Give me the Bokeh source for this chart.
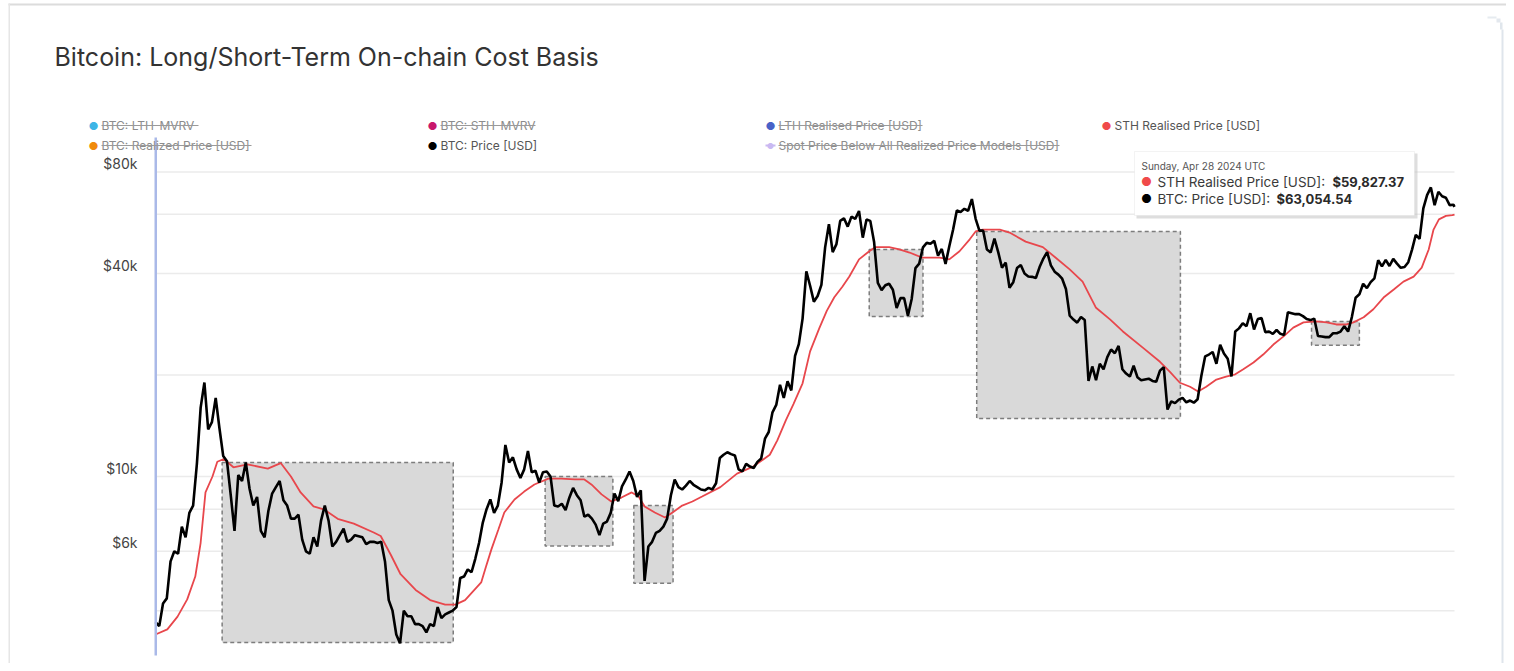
import pandas as pd
from bokeh.plotting import figure
from bokeh.models import Range1d, Label, BoxAnnotation, ColumnDataSource
from bokeh.embed import file_html
from bokeh.resources import INLINE

# ---------------- data ----------------
price_start = "2017-09-15"  # weekly (Friday) closes
price_2017 = [3700, 3600, 4200, 4350, 5600, 6000, 5900, 7100, 6600, 7800, 8200, 10900, 16000, 19000, 13800, 14500]
price_2018 = [17100, 13900, 11500, 11100, 8800, 6900, 10100, 9700, 11000, 9200, 8200, 8700, 6900,
              6600, 7900, 8900, 9300, 9700, 8500, 8200, 7500, 7500, 7700, 6500, 6000, 5900,
              6600, 6200, 7400, 8200, 7400, 6200, 6400, 6700, 7000, 6400, 6500, 6700, 6650,
              6600, 6300, 6400, 6400, 6350, 6400, 5600, 4300, 4000, 3400, 3200, 4000, 3850]
price_2019 = [3850, 3650, 3650, 3600, 3450, 3650, 3600, 4100, 3800, 3900, 3950, 4000, 4100,
              5000, 5050, 5300, 5200, 5700, 6350, 7300, 8000, 8550, 7800, 8200, 9600, 12400,
              11000, 11400, 10500, 9900, 10500, 11900, 10300, 10400, 9600, 10300, 10350, 10000, 8200,
              8150, 8300, 7950, 8650, 9250, 8800, 8500, 7600, 7700, 7500, 7200, 6700, 7250]
price_2020 = [7350, 7800, 8900, 8450, 9350, 9800, 10350, 9700, 8700, 9100, 4900, 6200, 6400,
              6800, 6900, 7100, 7500, 8800, 9800, 9300, 9150, 9400, 9700, 9450, 9300, 9150,
              9100, 9250, 9150, 9550, 11350, 11600, 11800, 11650, 11550, 10500, 10350, 10900, 10700,
              10600, 11050, 11300, 12950, 13550, 15500, 16300, 18700, 17100, 19150, 18000, 22800, 24700]
price_2021 = [29400, 40600, 36800, 33000, 34300, 37000, 47900, 56000, 46300, 48900, 57300, 58300, 55100,
              59000, 58100, 61300, 51100, 57800, 57300, 49700, 37500, 35700, 36900, 37300, 35800, 31600,
              33800, 33800, 30000, 33600, 41500, 42800, 47800, 49300, 49000, 50000, 45200, 47300, 42700,
              48200, 53900, 61500, 60900, 62200, 61400, 66500, 58100, 53600, 53600, 47100, 46200, 50800, 46300]
price_2022 = [41600, 43100, 36300, 37700, 41500, 42400, 40000, 39200, 39100, 38800, 41800, 44300,
              46300, 42300, 40500, 39700, 38600, 36000, 30000, 29200, 28600, 29700, 29100, 19200, 21200,
              19300, 21600, 20800, 22600, 23800, 23200, 24400, 20800, 20200, 19800, 21300, 19700, 19300,
              19400, 19500, 19200, 19100, 20600, 21100, 15800, 16700, 16500, 16900, 17100, 16600, 16800, 16550]
price_2023 = [16950, 19900, 22700, 23000, 23400, 21600, 24600, 23150, 22350, 19800, 26900, 27500, 28500,
              27900, 30500, 27300, 29300, 29500, 26800, 26900, 26500, 27200, 26500, 26300, 30700, 30500,
              30300, 30300, 29900, 29300, 29100, 29400, 26100, 26000, 25900, 25900, 26600, 26600, 26900,
              27900, 26900, 29700, 33900, 34700, 37300, 36200, 37700, 38700, 43800, 42000, 43900, 42100]
price_2024 = [44200, 42800, 41600, 41800, 43200, 47100, 52100, 50700, 62400, 68300, 72000, 63800,
              69900, 67800, 67100, 63800, 64000]
price_last_date = "2024-04-28"
price_last = 63054.54

sth_dates = ["2017-09-15", "2017-10-07", "2017-10-26", "2017-11-13", "2017-11-28", "2017-12-08",
             "2017-12-17", "2017-12-30", "2018-01-08", "2018-01-20", "2018-02-07", "2018-03-05",
             "2018-04-12", "2018-05-06", "2018-05-25", "2018-06-12", "2018-07-06", "2018-07-25",
             "2018-08-20", "2018-09-19", "2018-10-26", "2018-11-08", "2018-11-27", "2018-12-15",
             "2019-01-12", "2019-02-08", "2019-03-08", "2019-03-27", "2019-04-14", "2019-05-14",
             "2019-05-23", "2019-06-02", "2019-06-15", "2019-06-26", "2019-07-15", "2019-08-02",
             "2019-08-21", "2019-09-16", "2019-10-10", "2019-11-04", "2019-11-22", "2019-12-05",
             "2019-12-24", "2020-01-11", "2020-01-30", "2020-02-18", "2020-03-02", "2020-03-13",
             "2020-04-01", "2020-04-20", "2020-05-04", "2020-05-22", "2020-06-10", "2020-06-28",
             "2020-08-01", "2020-09-01", "2020-10-01", "2020-11-01", "2020-11-15", "2020-12-01",
             "2020-12-15", "2021-01-01", "2021-01-15", "2021-02-01", "2021-02-15", "2021-03-01",
             "2021-03-16", "2021-03-29", "2021-04-16", "2021-05-05", "2021-05-16", "2021-06-11",
             "2021-06-30", "2021-07-19", "2021-08-12", "2021-09-13", "2021-10-01", "2021-10-20",
             "2021-11-08", "2021-11-19", "2021-12-02", "2022-01-03", "2022-01-21", "2022-02-20",
             "2022-03-24", "2022-04-17", "2022-05-13", "2022-06-06", "2022-07-01", "2022-07-27",
             "2022-08-20", "2022-09-26", "2022-10-28", "2022-11-16", "2022-12-04", "2022-12-23",
             "2023-01-07", "2023-01-22", "2023-02-10", "2023-02-28", "2023-03-17", "2023-04-01",
             "2023-04-20", "2023-05-08", "2023-05-27", "2023-06-15", "2023-07-03", "2023-07-22",
             "2023-08-15", "2023-09-03", "2023-09-21", "2023-10-10", "2023-10-23", "2023-11-11",
             "2023-11-29", "2023-12-18", "2024-01-06", "2024-01-24", "2024-02-12", "2024-02-27",
             "2024-03-11", "2024-03-20", "2024-03-30", "2024-04-12", "2024-04-24", "2024-04-28"]
sth_values = [3400, 3520, 3840, 4320, 5050, 6360,
              8970, 10000, 11060, 11270, 10650, 10860,
              10550, 10960, 10000, 8970, 8150, 7990,
              7490, 7250, 6820, 6660, 5850, 5130,
              4610, 4300, 4170, 4170, 4300, 4850,
              5410, 6080, 6960, 7820, 8550, 9020,
              9470, 9860, 9860, 9800, 9800, 9470,
              8850, 8430, 8660, 8970, 8720, 8150,
              7820, 7560, 7820, 8200, 8430, 8720,
              9300, 10200, 10700, 11600, 12800, 14700,
              16400, 18900, 23500, 27500, 31000, 34000,
              36550, 39180, 44050, 46560, 47880, 47880,
              47180, 46160, 44550, 44550, 44050, 46560,
              50520, 53300, 54000, 54000, 52900, 49730,
              47880, 44550, 41150, 37850, 31650, 29240,
              26930, 24110, 21890, 20390, 18970, 18460,
              17860, 18460, 19380, 19790, 20100, 20810,
              21790, 23000, 24620, 26040, 27640, 28650,
              28850, 28650, 28240, 28240, 28650, 29660,
              31340, 33940, 35850, 37850, 39170, 41650,
              47140, 54000, 57880, 59270, 59600, 59827.37]

box_starts = ["2018-01-17", "2019-09-10", "2020-02-22", "2021-05-05", "2021-11-21", "2023-08-06"]
box_ends = ["2019-03-23", "2020-01-14", "2020-05-05", "2021-08-13", "2022-12-05", "2023-11-03"]
box_tops = [11000, 10000, 8200, 47100, 53300, 28800]
box_bottoms = [3220, 6220, 4820, 29800, 14860, 24500]

y_ticks = [4000, 6000, 8000, 10000, 20000, 40000, 60000, 80000]
y_tick_labels = ["", "$6k", "", "$10k", "", "$40k", "", "$80k"]

title_text = "Bitcoin: Long/Short-Term On-chain Cost Basis"
legend_names = ["BTC: LTH-MVRV", "BTC: STH-MVRV", "LTH Realised Price [USD]", "STH Realised Price [USD]",
                "BTC: Realized Price [USD]", "BTC: Price [USD]", "Spot Price Below All Realized Price Models [USD]"]
legend_colors = ["#3db5e6", "#c8176c", "#4862c8", "#f04a4a", "#f08a0c", "#000000", "#c9b9f2"]
legend_active = [False, False, False, True, False, True, False]
legend_widths = [97, 95, 144, 0, 150, 0, 281]   # strike-through lengths

# ---------------- layout constants (pixels) ----------------
W, H = 1506, 663
OFFX, OFFY = 1, 1
X_FIRST, X_LAST = 156, 1455         # page x of first / last date
Y_REF, Y_PER_DOUBLE = 172.5, 101.5  # page y of the top grid line, pixels per doubling
FONT = "Inter"


def sx(X):
    return X - OFFX


def sy(Y):
    return H - (Y - OFFY)


# ---------------- build ----------------
price_values = price_2017 + price_2018 + price_2019 + price_2020 + price_2021 + price_2022 + price_2023 + price_2024
price_dates = list(pd.date_range(price_start, periods=len(price_values), freq="7D")) + [pd.Timestamp(price_last_date)]
price_values = price_values + [price_last]

price_src = ColumnDataSource(dict(x=price_dates, y=price_values))
sth_src = ColumnDataSource(dict(x=pd.to_datetime(sth_dates), y=sth_values))
box_src = ColumnDataSource(dict(left=pd.to_datetime(box_starts), right=pd.to_datetime(box_ends),
                                top=box_tops, bottom=box_bottoms))
t0, t1 = pd.Timestamp(price_start), pd.Timestamp(price_last_date)
grid_src = ColumnDataSource(dict(x0=[t0] * len(y_ticks), x1=[t1] * len(y_ticks), y=y_ticks))

ms_per_px = (t1 - t0) / (sx(X_LAST) - sx(X_FIRST))
x_start = t0 - sx(X_FIRST) * ms_per_px
x_end = x_start + W * ms_per_px
ref_val = y_ticks[-1]
y_top = ref_val * 2 ** ((Y_REF - OFFY) / Y_PER_DOUBLE)
y_bot = ref_val / 2 ** ((H - (Y_REF - OFFY)) / Y_PER_DOUBLE)

p = figure(width=W, height=H, x_axis_type="datetime", y_axis_type="log", title=None,
           x_axis_location=None, y_axis_location=None, output_backend="svg", toolbar_location=None,
           x_range=Range1d(x_start, x_end), y_range=Range1d(y_bot, y_top),
           min_border=0, min_border_left=0, min_border_right=0, min_border_top=0, min_border_bottom=0)
p.outline_line_color = None
p.background_fill_color = "white"
p.border_fill_color = "white"
p.grid.visible = False

# horizontal grid lines at the tick values
p.segment(x0="x0", x1="x1", y0="y", y1="y", source=grid_src, line_color="#ebebeb", line_width=1.5)

# shaded regions
p.quad(left="left", right="right", top="top", bottom="bottom", source=box_src,
       fill_color="#d9d9d9", fill_alpha=1, line_color="#7d7d7d", line_width=1.5, line_dash="4 3")


def hbox(x0, x1, y0, y1, color, alpha=1.0, line=None):
    p.add_layout(BoxAnnotation(left=sx(x0), right=sx(x1), top=sy(y0), bottom=sy(y1),
                               left_units="screen", right_units="screen", top_units="screen",
                               bottom_units="screen", fill_color=color, fill_alpha=alpha,
                               line_color=line, line_width=1))


def label(X, Y, text, size, color, style="normal", align="left", baseline="middle"):
    p.add_layout(Label(x=sx(X), y=sy(Y), x_units="screen", y_units="screen", text=text,
                       text_font=FONT, text_font_size=size, text_color=color,
                       text_font_style=style, text_align=align, text_baseline=baseline))


# start crosshair
hbox(155, 157.5, 138, 656, "#aab9e8")

p.line("x", "y", source=sth_src, line_color="#e8474c", line_width=1.8)
p.line("x", "y", source=price_src, line_color="#000000", line_width=2.6)

# y tick labels (placed on the log scale at the tick values)
for v, t in zip(y_ticks, y_tick_labels):
    if t:
        p.add_layout(Label(x=sx(138), y=v, x_units="screen", y_units="data", text=t,
                           text_font=FONT, text_font_size="14px", text_color="#444444",
                           text_align="right", text_baseline="bottom"))

# title
label(55, 57, title_text, "25px", "#333333")

# legend
cols = [94, 433, 771, 1107]
rows = [126, 146]
for i, (name, color, active, w) in enumerate(zip(legend_names, legend_colors, legend_active, legend_widths)):
    cx = cols[i % 4]
    cy = rows[i // 4]
    if i == 6:
        hbox(cx - 5, cx + 5, cy - 1, cy + 1, color)
        label(cx, cy, "●", "8px", color, align="center")
    else:
        label(cx, cy, "●", "11px", color, align="center")
    tcol = "#555555" if active else "#8c8c8c"
    label(cx + 8, cy, name, "12px", tcol)
    if not active:
        hbox(cx + 8, cx + 8 + w, cy - 0.6, cy + 0.6, "#9a9a9a")

# tooltip
hbox(1137, 1418, 154, 219, "#bdbdbd", alpha=0.5)
hbox(1135, 1415, 152, 216, "#ffffff", line="#d6d6d6")
last_day = pd.Timestamp(price_last_date)
label(1142, 166, last_day.strftime("%A, %b %d %Y") + " UTC", "10px", "#555555")
label(1147, 182, "●", "12px", "#f04a4a", align="center")
label(1158, 182, "STH Realised Price [USD]:", "13.5px", "#3a3a3a")
label(1333, 182, f"${sth_values[-1]:,.2f}", "13px", "#2a2a2a", style="bold")
label(1147, 199, "●", "12px", "#000000", align="center")
label(1158, 199, "BTC: Price [USD]:", "13.5px", "#3a3a3a")
label(1277, 199, f"${price_last:,.2f}", "13px", "#2a2a2a", style="bold")

# screenshot / card edges
hbox(9, 1514, 4, 6, "#dcdcdc")
hbox(9, 10.5, 4, 671, "#e6e6e6")
hbox(1502, 1504, 30, 671, "#dfe5ec")
hbox(1488, 1497, 17, 19, "#e6ebf0")
hbox(1497, 1501, 19, 23, "#e3e8ee")
hbox(1500.5, 1503, 23, 30, "#e0e6ec")

open("out.html", "w").write(file_html(p, INLINE))
